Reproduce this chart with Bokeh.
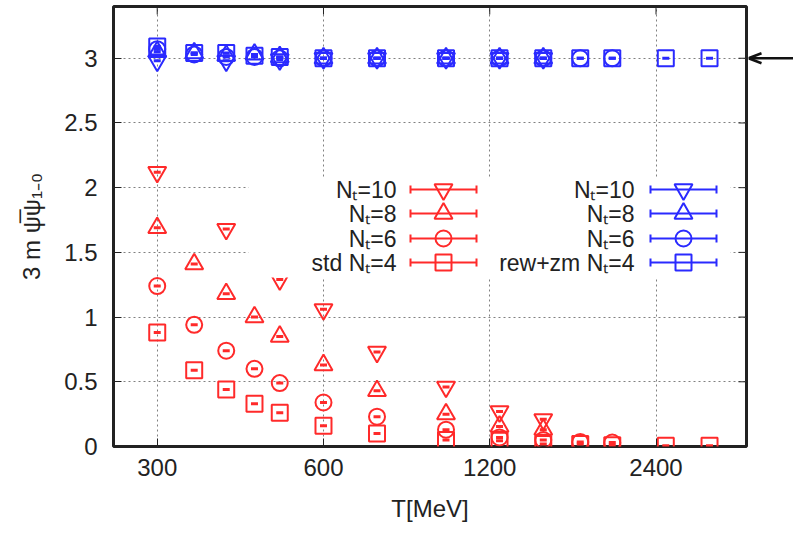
import math
from bokeh.plotting import figure
from bokeh.layouts import row
from bokeh.models import Range1d, FixedTicker, NumeralTickFormatter, LinearScale
from bokeh.embed import file_html
from bokeh.resources import INLINE
from bokeh.core.properties import value

# ---------------- data ----------------
T_nt10 = [300, 400, 500, 600, 750, 1000, 1250, 1500]
T_nt8 = [300, 350, 400, 450, 500, 600, 750, 1000, 1250, 1500]
T_nt6 = [300, 350, 400, 450, 500, 600, 750, 1000, 1250, 1500, 1750, 2000]
T_nt4 = [300, 350, 400, 450, 500, 600, 750, 1000, 1250, 1500, 1750, 2000, 2500, 3000]

std_nt10 = [2.12, 1.68, 1.29, 1.06, 0.73, 0.46, 0.27, 0.21]
std_nt8 = [1.69, 1.41, 1.18, 1.00, 0.85, 0.63, 0.43, 0.25, 0.155, 0.13]
std_nt6 = [1.24, 0.94, 0.74, 0.60, 0.49, 0.34, 0.23, 0.13, 0.07, 0.05, 0.035, 0.03]
std_nt4 = [0.88, 0.59, 0.44, 0.33, 0.26, 0.16, 0.10, 0.05, 0.045, 0.02, 0.02, 0.01, 0.005, 0.005]

rew_nt10 = [2.98, 2.98, 2.99, 3.0, 3.0, 3.0, 3.0, 3.0]
rew_nt8 = [3.05, 3.04, 3.02, 3.03, 3.01, 3.0, 3.0, 3.0, 3.0, 3.0]
rew_nt6 = [3.07, 3.03, 3.01, 3.01, 3.0, 3.0, 3.0, 3.0, 3.0, 3.0, 3.0, 3.0]
rew_nt4 = [3.09, 3.04, 3.04, 3.02, 3.01, 3.0, 3.0, 3.0, 3.0, 3.0, 3.0, 3.0, 3.0, 3.0]

x_ticks = [300, 600, 1200, 2400]
y_ticks = [0, 0.5, 1, 1.5, 2, 2.5, 3]
x_lim = (250, 3500)
y_lim = (0, 3.4)
arrow_level = 3.0

std_labels = ["N\u209c=10", "N\u209c=8", "N\u209c=6", "std N\u209c=4"]
rew_labels = ["N\u209c=10", "N\u209c=8", "N\u209c=6", "rew+zm N\u209c=4"]

# ---------------- style ----------------
RED = "#ff2a2a"
BLUE = "#2a2aff"
INK = "#222222"
FONT = "Liberation Sans"
MARKERS = ["inverted_triangle", "triangle", "circle", "square"]
MSIZE = [18, 18, 16, 16]

# frame in page pixels
W, H = 793, 534
FL, FR, FT, FB = 113, 746, 6, 446
W1 = FR + 2          # width of the main figure

p = figure(width=W1, height=H, x_axis_type="log",
           x_range=Range1d(*x_lim), y_range=Range1d(*y_lim),
           output_backend="svg", toolbar_location=None,
           min_border_left=FL, min_border_right=W1 - FR,
           min_border_top=FT, min_border_bottom=H - FB)
p.background_fill_color = "white"
p.border_fill_color = "white"
p.outline_line_color = INK
p.outline_line_width = 3

xt = FixedTicker(ticks=x_ticks, minor_ticks=[])
yt = FixedTicker(ticks=y_ticks, minor_ticks=[])

for ax in (p.xaxis[0], p.yaxis[0]):
    ax.axis_line_color = None
    ax.major_tick_in = 8
    ax.major_tick_out = 0
    ax.minor_tick_in = 0
    ax.minor_tick_out = 0
    ax.major_tick_line_color = INK
    ax.major_label_text_font = FONT
    ax.major_label_text_font_size = "24px"
    ax.major_label_text_color = INK
    ax.axis_label_text_font = FONT
    ax.axis_label_text_font_size = "24px"
    ax.axis_label_text_font_style = "normal"
    ax.axis_label_text_color = INK

p.xaxis.ticker = xt
p.xaxis.formatter = NumeralTickFormatter(format="0")
p.yaxis.ticker = yt
p.yaxis.formatter = NumeralTickFormatter(format="0.[0]")
p.xaxis.major_label_standoff = 12
p.yaxis.major_label_standoff = 16
p.xaxis.axis_label = "T[MeV]"
p.yaxis.axis_label = "3 m \u03c8\u0305\u03c8\u2081\u208b\u2080"
p.xaxis.axis_label_standoff = 16
p.yaxis.axis_label_standoff = 16

p.xgrid.ticker = xt
p.ygrid.ticker = yt
for g in (p.xgrid[0], p.ygrid[0]):
    g.grid_line_color = "#808080"
    g.grid_line_dash = "2 3"
    g.grid_line_width = 1

# mirrored tick marks on the top and right edges (half of each dash is clipped)
p.scatter(x_ticks, [y_lim[1]] * len(x_ticks), marker="dash", angle=math.pi / 2,
          size=16, line_color=INK, line_width=1)
p.scatter([x_lim[1]] * len(y_ticks), y_ticks, marker="dash",
          size=16, line_color=INK, line_width=1)

# ---------------- data marks ----------------
std_series = [(T_nt10, std_nt10), (T_nt8, std_nt8), (T_nt6, std_nt6), (T_nt4, std_nt4)]
rew_series = [(T_nt10, rew_nt10), (T_nt8, rew_nt8), (T_nt6, rew_nt6), (T_nt4, rew_nt4)]

for series, col in ((std_series, RED), (rew_series, BLUE)):
    for (xs, ys), mk, ms in zip(series, MARKERS, MSIZE):
        p.scatter(xs, ys, marker=mk, size=ms, fill_color=None,
                  line_color=col, line_width=2)
        p.scatter(xs, ys, marker="dash", size=7, line_color=col, line_width=3)

# ---------------- key (gnuplot style, labels left of samples) ----------------
p.extra_x_ranges = {"px": Range1d(FL, FR)}
p.extra_y_ranges = {"py": Range1d(FB, FT)}
p.extra_x_scales = {"px": LinearScale()}
p.extra_y_scales = {"py": LinearScale()}
kw = dict(x_range_name="px", y_range_name="py")

p.quad(left=[248], right=[730], top=[177], bottom=[277], fill_color="white",
       line_color=None, **kw)

rows = [189, 213, 238, 262]
for labels, col, tx, lx0, lx1 in ((std_labels, RED, 396, 410, 476),
                                  (rew_labels, BLUE, 634, 650, 716)):
    p.text(x=[tx] * 4, y=rows, text=labels, text_align="right",
           text_baseline="middle", text_font=value(FONT),
           text_font_size="23px", text_color=INK, **kw)
    p.segment(x0=[lx0] * 4, x1=[lx1] * 4, y0=rows, y1=rows,
              line_color=col, line_width=2, **kw)
    p.segment(x0=[lx0] * 4 + [lx1] * 4, x1=[lx0] * 4 + [lx1] * 4,
              y0=[r - 4 for r in rows] * 2, y1=[r + 4 for r in rows] * 2,
              line_color=col, line_width=2, **kw)
    mx = (lx0 + lx1) / 2
    for r, mk, ms in zip(rows, MARKERS, MSIZE):
        p.scatter([mx], [r], marker=mk, size=ms, fill_color=None,
                  line_color=col, line_width=2, **kw)

# ---------------- arrow strip to the right of the frame ----------------
p2 = figure(width=W - W1, height=H, x_range=Range1d(W1, W), y_range=Range1d(*y_lim),
            output_backend="svg", toolbar_location=None,
            x_axis_location=None, y_axis_location=None,
            min_border_left=0, min_border_right=0,
            min_border_top=FT, min_border_bottom=H - FB)
p2.grid.visible = False
p2.outline_line_color = None
p2.background_fill_color = "white"
p2.border_fill_color = "white"
p2.extra_y_ranges = {"py": Range1d(FB, FT)}
ay = FB - (arrow_level - y_lim[0]) / (y_lim[1] - y_lim[0]) * (FB - FT)
p2.segment(x0=[W1 + 1], x1=[W], y0=[ay], y1=[ay], line_color="#111111",
           line_width=2.5, y_range_name="py")
p2.multi_line(xs=[[W1 + 13, W1, W1 + 13]], ys=[[ay - 5, ay, ay + 5]],
              line_color="#111111", line_width=2.5, y_range_name="py")

layout = row(p, p2, spacing=0)
open("out.html", "w").write(file_html(layout, INLINE))
